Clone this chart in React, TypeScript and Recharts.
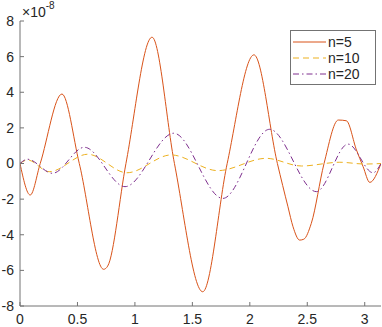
import React from 'react';
import {
    LineChart,
    Line,
    XAxis,
    YAxis,
    Legend,
} from 'recharts';

// values are in units of 1e-8
const n5X = [0, 0.089, 0.176, 0.365, 0.516, 0.728, 0.763, 0.922, 1.149, 1.344, 1.59, 1.803, 2.036, 2.24, 2.332, 2.376, 2.434, 2.47, 2.535, 2.646, 2.77, 2.84, 2.928, 2.986, 3.044, 3.1416];
const n5Y = [0, -1.77, 0, 3.9, 0, -5.94, -5.76, 0, 7.09, 0, -7.2, 0, 6.1, 0, -2.43, -3.55, -4.3, -4.25, -3.36, 0, 2.44, 2.4, 0.76, -0.18, -1.06, 0];

const n10X = [0, 0.065, 0.254, 0.589, 0.931, 1.315, 1.722, 2.143, 2.449, 2.783, 3.0, 3.1416];
const n10Y = [0, 0.2, -0.46, 0.52, -0.52, 0.48, -0.4, 0.29, -0.14, 0.07, -0.03, 0];

const n20X = [0, 0.065, 0.283, 0.56, 0.914, 1.338, 1.765, 2.172, 2.579, 2.855, 3.073, 3.1416];
const n20Y = [0, 0.24, -0.55, 0.91, -1.3, 1.7, -1.96, 1.92, -1.58, 1.09, -0.52, 0];

const xTicks = [0, 0.5, 1, 1.5, 2, 2.5, 3];
const yTicks = [-8, -6, -4, -2, 0, 2, 4, 6, 8];

const toPoints = (xs: number[], ys: number[]) => xs.map((x, i) => ({ x, y: ys[i] }));

const series = [
    { name: 'n=5', data: toPoints(n5X, n5Y), color: '#D95319', dash: undefined },
    { name: 'n=10', data: toPoints(n10X, n10Y), color: '#EDB120', dash: '6 4' },
    { name: 'n=20', data: toPoints(n20X, n20Y), color: '#7E2F8E', dash: '6 3 1.5 3' },
];

const FONT = '"Liberation Sans", Arial, Helvetica, sans-serif';
const AXIS = '#737373';
const TEXT = '#262626';

const tickStyle = { fontSize: 14, fill: TEXT, fontFamily: FONT };

const ExponentLabel = (props: any) => {
    const vb = props.viewBox || { x: 0, y: 21, width: 20 };
    return (
        <text x={vb.x + vb.width + 2} y={vb.y - 4} fontSize={14} fill={TEXT} fontFamily={FONT}>
            <tspan>×10</tspan>
            <tspan dy={-8} fontSize={10}>-8</tspan>
        </text>
    );
};

const LegendBox = () => (
    <svg width={86} height={55} style={{ display: 'block' }}>
        <rect x={0.5} y={0.5} width={85} height={54} fill="#fff" stroke={AXIS} strokeWidth={1} />
        {series.map((s, i) => {
            const cy = 12 + i * 16;
            return (
                <g key={s.name}>
                    <line x1={3} x2={36} y1={cy} y2={cy} stroke={s.color} strokeWidth={1} strokeDasharray={s.dash} />
                    <text x={38} y={cy} dy="0.36em" fontSize={14} fill={TEXT} fontFamily={FONT}>{s.name}</text>
                </g>
            );
        })}
    </svg>
);

export default function App() {
    return (
        <div style={{ position: 'absolute', left: 0, top: 0, background: '#fff' }}>
            <LineChart width={382} height={327} margin={{ top: 21, right: 1, bottom: 0, left: 0 }}>
                <XAxis
                    xAxisId="b"
                    type="number"
                    dataKey="x"
                    domain={[0, Math.PI]}
                    allowDataOverflow
                    ticks={xTicks}
                    interval={0}
                    height={21}
                    tickSize={-4}
                    tickMargin={12}
                    stroke={AXIS}
                    tick={tickStyle}
                />
                <XAxis
                    xAxisId="t"
                    orientation="top"
                    type="number"
                    dataKey="x"
                    domain={[0, Math.PI]}
                    allowDataOverflow
                    ticks={xTicks}
                    interval={0}
                    height={0}
                    tickSize={-4}
                    stroke={AXIS}
                    tick={false}
                />
                <YAxis
                    yAxisId="l"
                    type="number"
                    domain={[-8, 8]}
                    ticks={yTicks}
                    interval={0}
                    width={20}
                    tickSize={-4}
                    tickMargin={10}
                    stroke={AXIS}
                    tick={tickStyle}
                    label={<ExponentLabel />}
                />
                <YAxis
                    yAxisId="r"
                    orientation="right"
                    type="number"
                    domain={[-8, 8]}
                    ticks={yTicks}
                    interval={0}
                    width={0}
                    tickSize={-4}
                    stroke={AXIS}
                    tick={false}
                />
                {series.map((s) => (
                    <Line
                        key={s.name}
                        xAxisId="b"
                        yAxisId="l"
                        data={s.data}
                        dataKey="y"
                        name={s.name}
                        type="monotone"
                        stroke={s.color}
                        strokeWidth={1}
                        strokeDasharray={s.dash}
                        dot={false}
                        activeDot={false}
                        isAnimationActive={false}
                    />
                ))}
                <Legend
                    layout="horizontal"
                    verticalAlign="middle"
                    align="center"
                    wrapperStyle={{ top: 30, left: 290, width: 86, height: 55 }}
                    content={<LegendBox />}
                />
            </LineChart>
        </div>
    );
}
